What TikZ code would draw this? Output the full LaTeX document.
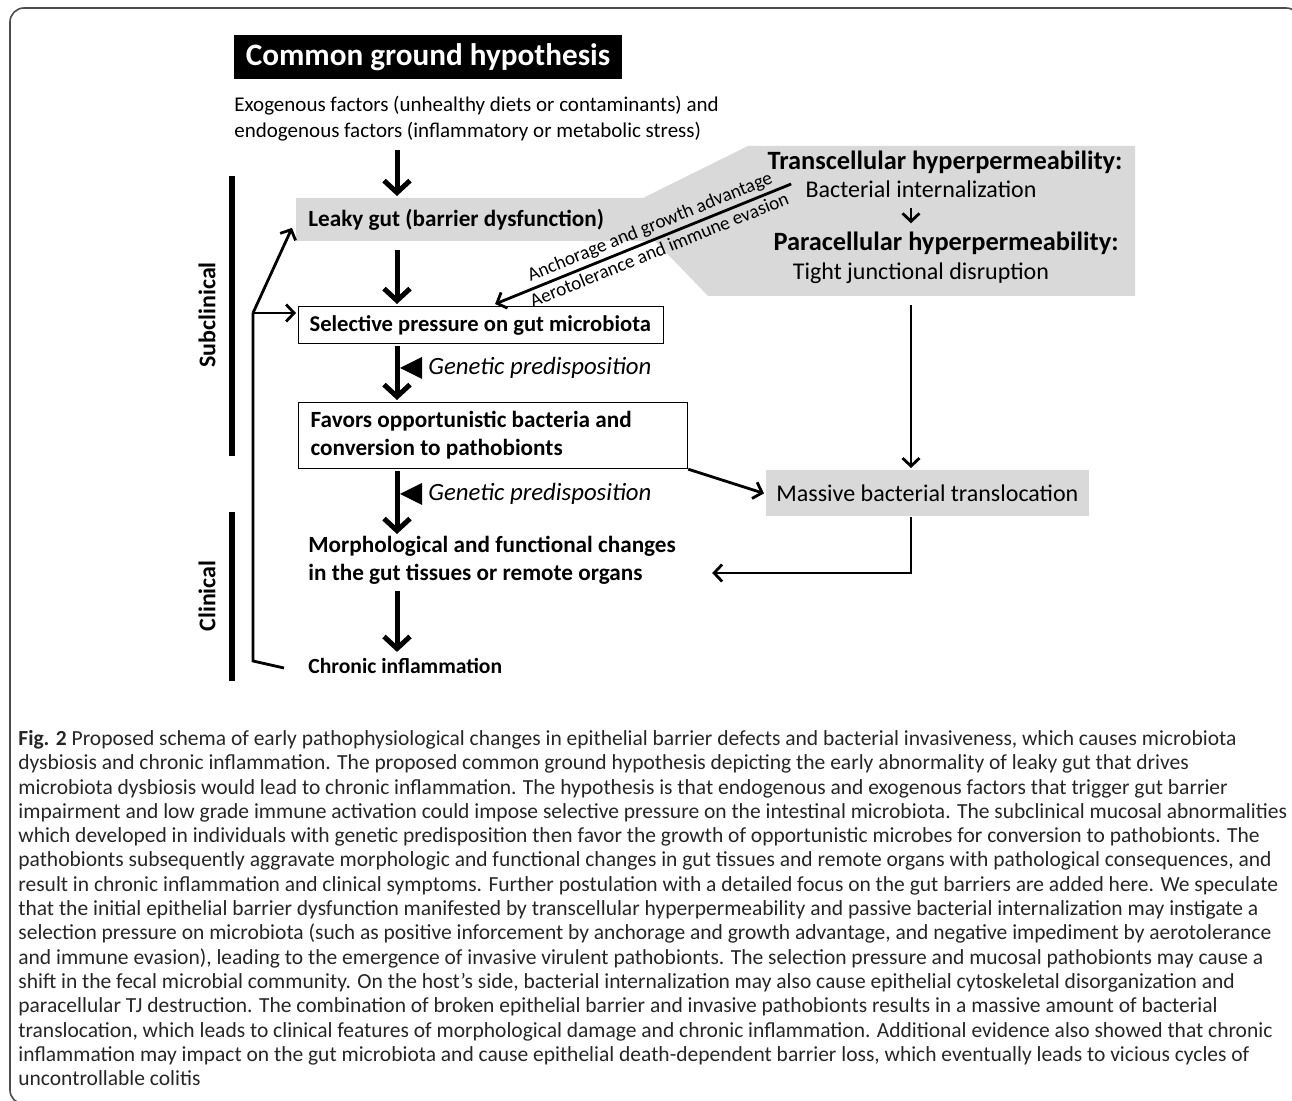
\documentclass[tikz,border=0pt]{standalone}
\usepackage{fontspec}
\setmainfont{Carlito}
\usepackage{tikz}
\usetikzlibrary{
  positioning,
  calc,
  arrows.meta
}

\tikzset{
  bigarrow/.style={line width=2.5pt,-{Straight Barb[length=6pt,width=13pt]}},
  thinarrow/.style={line width=1.4pt,-{Straight Barb[length=4pt,width=8.5pt]}},
  flowbox/.style={anchor=north west,align=flush left,inner xsep=6pt,inner ysep=0pt,font=\fontsize{11.6}{14}\selectfont\bfseries},
  plainbox/.style={flowbox,draw,line width=0.6pt},
  graybox/.style={flowbox,fill=gray!30},
  flowtext/.style={flowbox,inner ysep=0pt},
  sidetext/.style={font=\fontsize{12}{14}\selectfont,inner sep=0pt},
  sidehead/.style={font=\fontsize{13.2}{15}\selectfont\bfseries,inner sep=0pt},
  slopetext/.style={sloped,inner sep=0pt,font=\fontsize{9.6}{11}\selectfont},
  stagebar/.style={line width=3pt},
  stagelabel/.style={rotate=90,font=\fontsize{12}{14}\selectfont\bfseries,inner sep=0pt},
  genetic/.style={anchor=west,font=\fontsize{12.4}{14}\selectfont\itshape,inner sep=0pt}
}

\begin{document}
\begin{tikzpicture}[x=0.5pt,y=-0.5pt,>=latex]
        \useasboundingbox (0,0) rectangle (1292,1101);
        \begin{scope}
          \clip (0,0) rectangle (1292,1101);
          \draw[line width=0.8pt,gray!60!black,rounded corners=7pt] (1300,40) -- (1300,8) -- (10,8) -- (10,1104) -- (60,1104);
        \end{scope}

        \node[fill=black,text=white,minimum width=194pt,minimum height=22pt,inner sep=0pt,font=\fontsize{15.6}{18}\selectfont\bfseries] (title) at (428,57) {Common ground hypothesis};
        \node[anchor=north west,align=flush left,inner sep=0pt,font=\fontsize{10.5}{13}\selectfont] (factors) at (234,96) {Exogenous factors (unhealthy diets or contaminants) and\\endogenous factors (inflammatory or metabolic stress)};

        \fill[gray!30] (296,198) -- (643,198) -- (748,146) -- (1135,146) -- (1135,296) -- (708,296) -- (655,241) -- (296,241) -- cycle;
        \node[graybox,text width=155pt,minimum height=21.5pt] (leaky) at (296,198) {Leaky gut (barrier dysfunction)};
        \node[plainbox,inner xsep=5.5pt,text width=171.5pt,minimum height=18.5pt,font=\fontsize{11.3}{14}\selectfont\bfseries] (selective) at (298,306) {Selective pressure on gut microbiota};
        \node[plainbox,text width=182.5pt,minimum height=33pt] (favors) at (298,402) {Favors opportunistic bacteria and\\conversion to pathobionts};
        \node[flowtext] (morpho) at (296,536) {Morphological and functional changes\\in the gut tissues or remote organs};
        \node[flowtext,anchor=west,font=\fontsize{10.8}{13}\selectfont\bfseries] (chronic) at (296,666) {Chronic inflammation};

        \node[sidehead] (transc) at (945,162) {Transcellular hyperpermeability:};
        \node[sidetext] (internal) at (921,189) {Bacterial internalization};
        \node[sidehead] (parac) at (946,243) {Paracellular hyperpermeability:};
        \node[sidetext] (tight) at (921,273) {Tight junctional disruption};
        \node[graybox,font=\fontsize{12}{14}\selectfont,inner xsep=5pt,text width=151.5pt,minimum height=23pt] (massive) at (766,470) {Massive bacterial translocation};

        \node[genetic] (gen1) at (428,368) {Genetic predisposition};
        \node[genetic] (gen2) at (428,494) {Genetic predisposition};
        \fill ([xshift=-3pt]gen1.west) -- ++(0,-11) -- ++(-22,11) -- ++(22,11) -- cycle;
        \fill ([xshift=-3pt]gen2.west) -- ++(0,-11) -- ++(-22,11) -- ++(22,11) -- cycle;

        \coordinate (col) at (397,0);
        \coordinate (col2) at (911,0);
        \draw[bigarrow] ([yshift=-4pt]factors.south -| col) -- ([yshift=1pt]leaky.north -| col);
        \draw[bigarrow] ([yshift=-4pt]leaky.south -| col) -- ([yshift=1pt]selective.north -| col);
        \draw[bigarrow] ([yshift=-1pt]selective.south -| col) -- ([yshift=1pt]favors.north -| col);
        \draw[bigarrow] ([yshift=-1pt]favors.south -| col) -- ([yshift=1pt]morpho.north -| col);
        \draw[bigarrow] ([yshift=-3pt]morpho.south -| col) -- ([yshift=3pt]chronic.north -| col);

        \draw[thinarrow] ([yshift=-5pt]internal.south -| col2) -- ([yshift=4pt]parac.north -| col2);
        \draw[thinarrow] ([xshift=-7pt,yshift=2.5pt]internal.west)
          -- node[slopetext,pos=0.46,above=1.5pt] (anchor) {Anchorage and growth advantage}
             node[slopetext,pos=0.46,below=1.5pt] (aero) {Aerotolerance and immune evasion}
          ([xshift=7pt,yshift=1pt]selective.north);

        \draw[thinarrow] (favors.south east) -- ([xshift=-1pt]massive.west);
        \draw[thinarrow] (col2 |- 0,305) -- ([yshift=1pt]massive.north -| col2);
        \draw[thinarrow] (massive.south -| col2) -- (col2 |- 0,573) -- ([xshift=12pt]morpho.east |- 0,573);

        \draw[stagebar] (232,176) -- (232,456);
        \draw[stagebar] (232,512) -- (232,681);
        \node[stagelabel] (subclin) at (207,315) {Subclinical};
        \node[stagelabel] (clin) at (207,596) {Clinical};

        \coordinate (fb) at (253,313);
        \draw[line width=1.4pt] ([xshift=-6pt,yshift=-1pt]chronic.west) -- (fb |- 0,661) -- (fb);
        \draw[thinarrow] (fb) -- ([xshift=-1pt]selective.west |- fb);
        \draw[thinarrow] (fb) -- ([xshift=-2pt,yshift=-4pt]leaky.west);

        \node[anchor=north west,align=flush left,inner sep=0pt,text=black!85,font=\fontsize{10.75}{12.15}\selectfont] (caption) at (18,730) {\textbf{Fig. 2} Proposed schema of early pathophysiological changes in epithelial barrier defects and bacterial invasiveness, which causes microbiota\\
dysbiosis and chronic inflammation. The proposed common ground hypothesis depicting the early abnormality of leaky gut that drives\\
microbiota dysbiosis would lead to chronic inflammation. The hypothesis is that endogenous and exogenous factors that trigger gut barrier\\
impairment and low grade immune activation could impose selective pressure on the intestinal microbiota. The subclinical mucosal abnormalities\\
which developed in individuals with genetic predisposition then favor the growth of opportunistic microbes for conversion to pathobionts. The\\
pathobionts subsequently aggravate morphologic and functional changes in gut tissues and remote organs with pathological consequences, and\\
result in chronic inflammation and clinical symptoms. Further postulation with a detailed focus on the gut barriers are added here. We speculate\\
that the initial epithelial barrier dysfunction manifested by transcellular hyperpermeability and passive bacterial internalization may instigate a\\
selection pressure on microbiota (such as positive inforcement by anchorage and growth advantage, and negative impediment by aerotolerance\\
and immune evasion), leading to the emergence of invasive virulent pathobionts. The selection pressure and mucosal pathobionts may cause a\\
shift in the fecal microbial community. On the host’s side, bacterial internalization may also cause epithelial cytoskeletal disorganization and\\
paracellular TJ destruction. The combination of broken epithelial barrier and invasive pathobionts results in a massive amount of bacterial\\
translocation, which leads to clinical features of morphological damage and chronic inflammation. Additional evidence also showed that chronic\\
inflammation may impact on the gut microbiota and cause epithelial death-dependent barrier loss, which eventually leads to vicious cycles of\\
uncontrollable colitis};
    \end{tikzpicture}
\end{document}
